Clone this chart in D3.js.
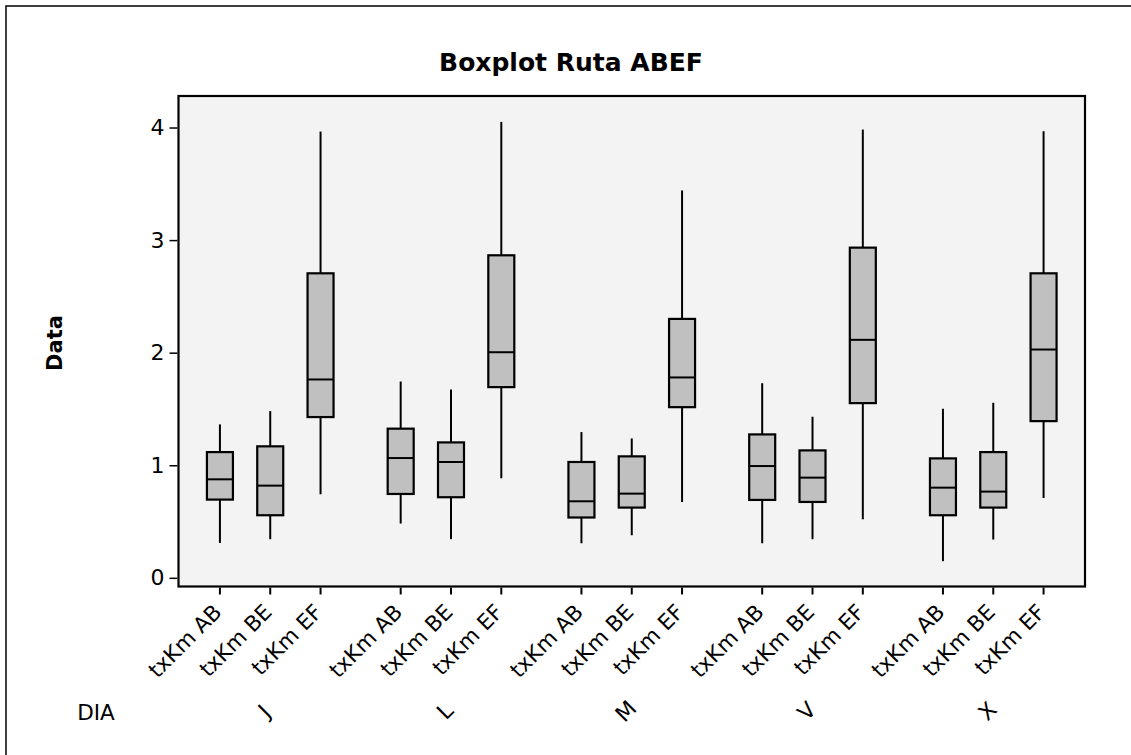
<!DOCTYPE html>
<html>
<head>
<meta charset="utf-8">
<script src="https://cdn.jsdelivr.net/npm/d3@7"></script>
<style>
  body { margin: 0; background: #fff; }
  text { font-family: 'DejaVu Sans', sans-serif; }
</style>
</head>
<body>
<div id="chart"></div>
<script>
// categories
var days = ['J', 'L', 'M', 'V', 'X'];
var vars = ['txKm AB', 'txKm BE', 'txKm EF'];
var y_ticks = [0, 1, 2, 3, 4];

// box stats, order: J AB, J BE, J EF, L AB, ... X EF
var whisker_low  = [0.31, 0.343, 0.742, 0.482, 0.343, 0.884, 0.307, 0.378, 0.674, 0.307, 0.343, 0.52, 0.148, 0.34, 0.709];
var q1           = [0.695, 0.556, 1.428, 0.745, 0.716, 1.694, 0.536, 0.624, 1.516, 0.692, 0.674, 1.552, 0.556, 0.624, 1.392];
var median       = [0.875, 0.819, 1.762, 1.064, 1.029, 2.004, 0.68, 0.748, 1.78, 0.993, 0.89, 2.114, 0.801, 0.766, 2.028];
var q3           = [1.117, 1.168, 2.705, 1.325, 1.203, 2.865, 1.029, 1.079, 2.30, 1.274, 1.132, 2.933, 1.061, 1.117, 2.705];
var whisker_high = [1.363, 1.481, 3.964, 1.744, 1.673, 4.05, 1.295, 1.238, 3.441, 1.729, 1.431, 3.982, 1.502, 1.555, 3.967];

var width = 1131, height = 755;
var plot = { left: 178.5, top: 96, right: 1085, bottom: 586.5 };
var box_width = 26;

var boxes = [];
days.forEach(function(d, i) {
    vars.forEach(function(v, j) {
        var k = i * vars.length + j;
        boxes.push({ day: d, name: v, low: whisker_low[k], q1: q1[k], med: median[k], q3: q3[k], high: whisker_high[k] });
    });
});

var svg = d3.select('#chart')
    .append('svg')
    .attr('width', width)
    .attr('height', height);

// outer frame (right/bottom edges fall outside the picture)
svg.append('rect')
    .attr('x', 6).attr('y', 6)
    .attr('width', width + 20).attr('height', height + 20)
    .attr('fill', 'white')
    .attr('stroke', '#000')
    .attr('stroke-width', 1.5);

var x_day = d3.scaleBand()
    .domain(days)
    .range([plot.left, plot.right])
    .paddingInner(0.165)
    .paddingOuter(0.09);

var x_var = d3.scalePoint()
    .domain(vars)
    .range([0, x_day.bandwidth()])
    .padding(0.5);

var y = d3.scaleLinear()
    .domain([-0.077, 4.28])
    .range([plot.bottom, plot.top]);

function bx(d) { return x_day(d.day) + x_var(d.name); }

svg.append('rect')
    .attr('x', plot.left).attr('y', plot.top)
    .attr('width', plot.right - plot.left)
    .attr('height', plot.bottom - plot.top)
    .attr('fill', '#f3f3f3')
    .attr('stroke', '#000')
    .attr('stroke-width', 2.2);

// y axis
var y_axis = svg.append('g')
    .attr('transform', `translate(${plot.left - 1}, 0)`)
    .call(d3.axisLeft(y).tickValues(y_ticks).tickSize(8).tickPadding(5).tickFormat(d3.format('d')));
y_axis.select('.domain').remove();
y_axis.selectAll('line').attr('stroke', '#000').attr('stroke-width', 1.5);
y_axis.selectAll('text').style('font-size', '22px').attr('fill', '#000');

// x ticks
svg.append('g')
    .selectAll('line')
    .data(boxes)
    .enter()
    .append('line')
    .attr('x1', bx).attr('x2', bx)
    .attr('y1', plot.bottom + 1).attr('y2', plot.bottom + 8)
    .attr('stroke', '#000')
    .attr('stroke-width', 2);

svg.append('g')
    .selectAll('text')
    .data(boxes)
    .enter()
    .append('text')
    .attr('transform', function(d) { return `translate(${bx(d) + 3}, ${plot.bottom + 27}) rotate(-45)`; })
    .attr('text-anchor', 'end')
    .style('font-size', '21.5px')
    .text(function(d) { return d.name; });

// DIA row
svg.append('text')
    .attr('x', 96).attr('y', 720)
    .attr('text-anchor', 'middle')
    .style('font-size', '21.5px')
    .text('DIA');

svg.append('g')
    .selectAll('text')
    .data(days)
    .enter()
    .append('text')
    .attr('transform', function(d) { return `translate(${x_day(d) + x_day.bandwidth() / 2 - 6}, 711) rotate(-45)`; })
    .attr('text-anchor', 'middle')
    .attr('dy', '0.35em')
    .style('font-size', '22px')
    .text(function(d) { return d; });

// boxes
var g = svg.append('g')
    .selectAll('g')
    .data(boxes)
    .enter()
    .append('g');

g.append('line')
    .attr('x1', bx).attr('x2', bx)
    .attr('y1', function(d) { return y(d.high); })
    .attr('y2', function(d) { return y(d.q3); })
    .attr('stroke', '#000').attr('stroke-width', 2);

g.append('line')
    .attr('x1', bx).attr('x2', bx)
    .attr('y1', function(d) { return y(d.q1); })
    .attr('y2', function(d) { return y(d.low); })
    .attr('stroke', '#000').attr('stroke-width', 2);

g.append('rect')
    .attr('x', function(d) { return bx(d) - box_width / 2; })
    .attr('y', function(d) { return y(d.q3); })
    .attr('width', box_width)
    .attr('height', function(d) { return y(d.q1) - y(d.q3); })
    .attr('fill', '#c0c0c0')
    .attr('stroke', '#000')
    .attr('stroke-width', 2.2);

g.append('line')
    .attr('x1', function(d) { return bx(d) - box_width / 2; })
    .attr('x2', function(d) { return bx(d) + box_width / 2; })
    .attr('y1', function(d) { return y(d.med); })
    .attr('y2', function(d) { return y(d.med); })
    .attr('stroke', '#000').attr('stroke-width', 2);

// titles
svg.append('text')
    .attr('x', 571).attr('y', 71)
    .attr('text-anchor', 'middle')
    .style('font-size', '25px')
    .style('font-weight', 700)
    .text('Boxplot Ruta ABEF');

svg.append('text')
    .attr('transform', 'translate(62, 343) rotate(-90)')
    .attr('text-anchor', 'middle')
    .style('font-size', '21px')
    .style('font-weight', 700)
    .text('Data');
</script>
</body>
</html>
